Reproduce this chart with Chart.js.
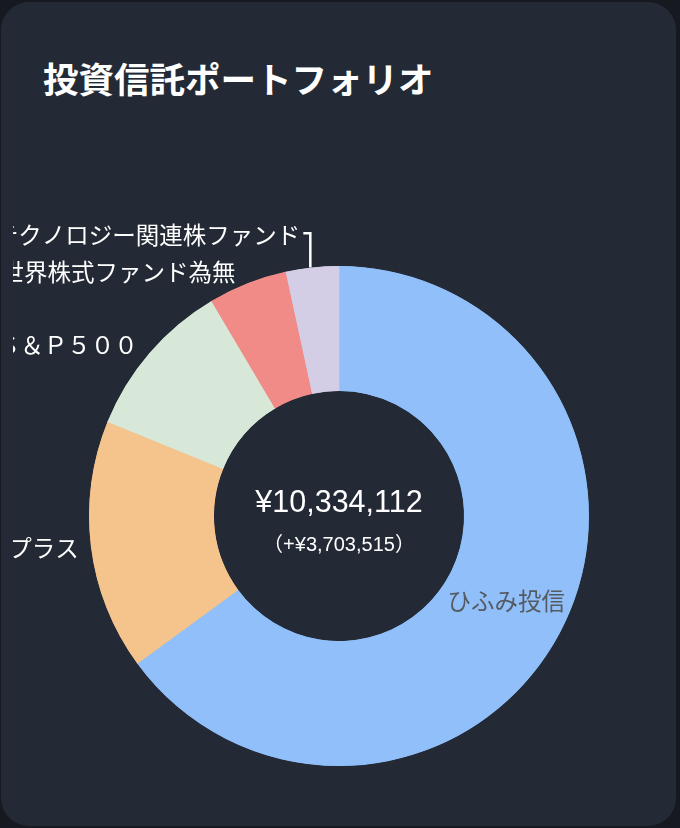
<!DOCTYPE html>
<html lang="ja">
<head>
<meta charset="UTF-8">
<title>投資信託ポートフォリオ</title>
<script src="https://cdn.jsdelivr.net/npm/chart.js@4/dist/chart.umd.min.js"></script>
<style>
  html, body {
    margin: 0;
    padding: 0;
    width: 680px;
    height: 828px;
    overflow: hidden;
    background: #161a20;
  }
  .card {
    position: absolute;
    left: 1px;
    top: 2px;
    width: 675px;
    height: 824px;
    border-radius: 28px;
    background: #232a35;
    overflow: hidden;
  }
  .card h2 {
    position: absolute;
    left: 42px;
    top: 58px;
    margin: 0;
    font-family: "Noto Sans CJK JP", sans-serif;
    font-size: 35.5px;
    font-weight: 700;
    line-height: 1;
    color: #ffffff;
    white-space: nowrap;
  }
  #portfolioChart {
    position: absolute;
    left: 12px;
    top: 128px;
  }
</style>
</head>
<body>
<div class="card">
  <h2>投資信託ポートフォリオ</h2>
  <canvas id="portfolioChart" width="652" height="690"></canvas>
</div>
<script>
// FUNDS AND VALUES (JPY)
const fundNames = [
  "ひふみ投信",
  "ひふみプラス",
  "ＳＢＩ・Ｖ・Ｓ＆Ｐ５００",
  "全世界株式ファンド為無",
  "次世代テクノロジー関連株ファンド",
];
const fundValues = [6712400, 1675300, 1066800, 527900, 351712];
const fundColors = ["#90bff9", "#f5c48d", "#d7e8d8", "#f08b87", "#d3cde6"];
const totalGain = 3703515;

const LABEL_FONT = '23.5px "Noto Sans CJK JP", sans-serif';

// SLICE LABELS + CENTER TEXT
const sliceLabels = {
  id: "slice-labels",
  afterDatasetsDraw(chart) {
    const { ctx } = chart;
    const meta = chart.getDatasetMeta(0);
    const total = fundValues.reduce((sum, v) => sum + v, 0);
    const placed = [];

    ctx.save();
    ctx.font = LABEL_FONT;
    ctx.textBaseline = "middle";

    meta.data.forEach((arc, i) => {
      const { x, y, startAngle, endAngle, innerRadius, outerRadius } =
        arc.getProps(["x", "y", "startAngle", "endAngle", "innerRadius", "outerRadius"], true);
      const mid = (startAngle + endAngle) / 2;

      // BIG SLICE: LABEL INSIDE
      if (fundValues[i] / total > 0.25) {
        const r = (innerRadius + outerRadius) / 2;
        ctx.fillStyle = "#555b63";
        ctx.textAlign = "center";
        ctx.fillText(fundNames[i], x + r * Math.cos(mid), y + r * Math.sin(mid));
        return;
      }

      // SMALL SLICES: LABEL OUTSIDE, PUSHED UP ON OVERLAP
      const ex = x + outerRadius * Math.cos(mid);
      const ey = y + outerRadius * Math.sin(mid);
      const lx = ex - 12;
      let ly = y + (outerRadius + 12) * Math.sin(mid);
      let moved = false;
      placed.forEach((py) => {
        if (Math.abs(ly - py) < 37) {
          ly = py - 37;
          moved = true;
        }
      });
      placed.push(ly);

      if (moved) {
        ctx.strokeStyle = "#ffffff";
        ctx.lineWidth = 2.5;
        ctx.beginPath();
        ctx.moveTo(ex - 2, ey);
        ctx.lineTo(ex - 2, ly - 2);
        ctx.lineTo(lx + 3, ly - 2);
        ctx.stroke();
      }

      ctx.fillStyle = "#ffffff";
      ctx.textAlign = "right";
      ctx.fillText(fundNames[i], lx, ly);
    });

    // CENTER TOTAL
    const { x: cx, y: cy } = meta.data[0].getProps(["x", "y"], true);
    ctx.textAlign = "center";
    ctx.textBaseline = "alphabetic";
    ctx.fillStyle = "#ffffff";
    ctx.font = '30.5px "Liberation Sans", "Noto Sans CJK JP", sans-serif';
    ctx.fillText(`¥${total.toLocaleString("en-US")}`, cx, cy - 4);
    ctx.font = '20px "Liberation Sans", "Noto Sans CJK JP", sans-serif';
    ctx.fillText(`（+¥${totalGain.toLocaleString("en-US")}）`, cx, cy + 35);
    ctx.restore();
  },
};

new Chart(document.getElementById("portfolioChart"), {
  type: "doughnut",
  data: {
    labels: fundNames,
    datasets: [
      {
        data: fundValues,
        backgroundColor: fundColors,
        borderColor: fundColors,
        borderWidth: 1,
        borderAlign: "inner",
        offset: 0,
        hoverOffset: 0,
      },
    ],
  },
  options: {
    responsive: false,
    animation: false,
    cutout: "50%",
    layout: {
      padding: { top: 136, bottom: 54, left: 76, right: 76 },
    },
    plugins: {
      legend: { display: false },
      tooltip: { enabled: false },
    },
  },
  plugins: [sliceLabels],
});
</script>
</body>
</html>
